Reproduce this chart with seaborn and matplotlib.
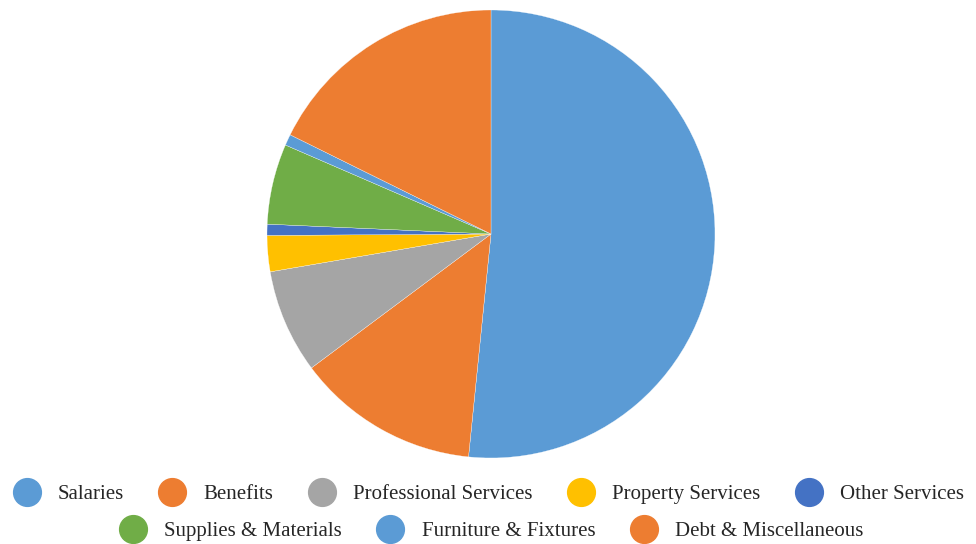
import matplotlib
matplotlib.use("Agg")
import matplotlib.pyplot as plt
from matplotlib.lines import Line2D
import seaborn as sns

# Budget share by expense category (percent)
categories = ["Salaries", "Benefits", "Professional Services", "Property Services",
              "Other Services", "Supplies & Materials", "Furniture & Fixtures",
              "Debt & Miscellaneous"]
shares = [51.6, 13.2, 7.5, 2.6, 0.8, 5.8, 0.8, 17.7]
colors = ["#5B9BD5", "#ED7D31", "#A5A5A5", "#FFC000", "#4472C4", "#70AD47",
          "#5B9BD5", "#ED7D31"]

sns.set_theme(style="white")
plt.rcParams["font.family"] = ["Liberation Serif", "DejaVu Serif"]

fig = plt.figure(figsize=(9.76, 5.44), dpi=100)
fig.patch.set_facecolor("white")
ax = fig.add_axes([267 / 976, 86 / 544, 448 / 976, 448 / 544])
ax.pie(shares, colors=colors, startangle=90, counterclock=False,
       wedgeprops=dict(edgecolor="white", linewidth=0.2))
ax.set_xlim(-1, 1)
ax.set_ylim(-1, 1)
ax.set_aspect("equal")

handles = [Line2D([0], [0], marker="o", linestyle="none", markersize=20,
                  markerfacecolor=c, markeredgecolor=c) for c in colors]

legend_kw = dict(loc="center", frameon=False, fontsize=15, handlelength=1.4,
                 handletextpad=0.8, columnspacing=1.62, borderaxespad=0,
                 borderpad=0)
leg1 = fig.legend(handles[:5], categories[:5], ncol=5,
                  bbox_to_anchor=(0.5, 1 - 494 / 544), **legend_kw)
leg2 = fig.legend(handles[5:], categories[5:], ncol=3,
                  bbox_to_anchor=(0.503, 1 - 531 / 544), **legend_kw)
for leg in (leg1, leg2):
    for t in leg.get_texts():
        t.set_color("#262626")

fig.savefig("out.png", dpi=100, facecolor="white")
